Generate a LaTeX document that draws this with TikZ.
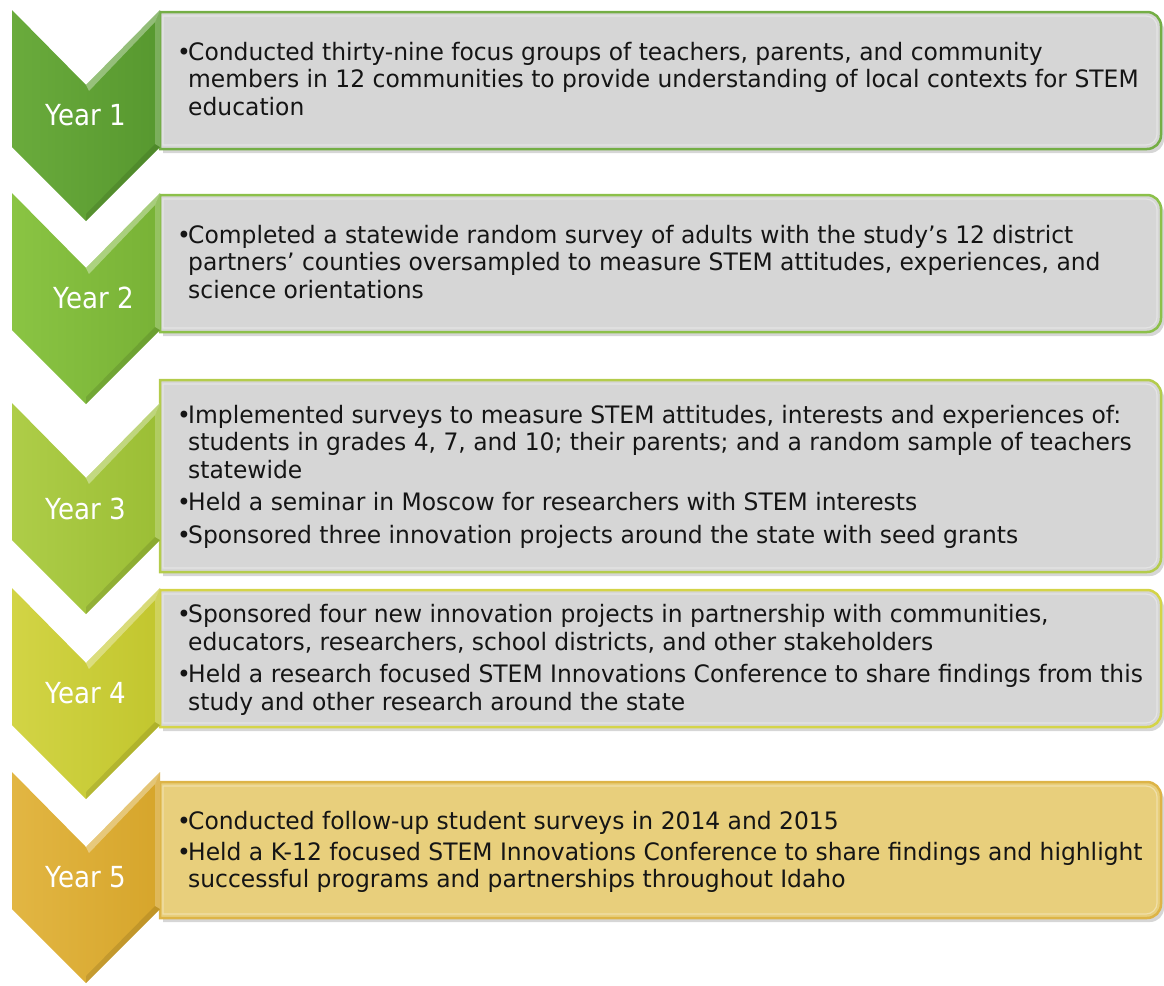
\documentclass[tikz,border=0pt]{standalone}
\usepackage{fontspec}
\setmainfont[FakeStretch=0.975]{DejaVu Sans}
\newfontfamily\yrfont[FakeStretch=0.9]{DejaVu Sans}
\definecolor{cA}{HTML}{57982F}\definecolor{cAl}{HTML}{6AAB3C}\definecolor{oA}{HTML}{74AE45}
\definecolor{cB}{HTML}{78B236}\definecolor{cBl}{HTML}{8AC443}\definecolor{oB}{HTML}{8CC04A}
\definecolor{cC}{HTML}{9BBE35}\definecolor{cCl}{HTML}{AECD48}\definecolor{oC}{HTML}{B4CC4C}
\definecolor{cD}{HTML}{C2C62E}\definecolor{cDl}{HTML}{D2D445}\definecolor{oD}{HTML}{D4D448}
\definecolor{cE}{HTML}{D6A52B}\definecolor{cEl}{HTML}{E2B643}\definecolor{oE}{HTML}{DDB447}
\definecolor{boxgray}{HTML}{D6D6D6}\definecolor{boxgold}{HTML}{E8CF7C}
\definecolor{txtc}{HTML}{151515}
\newcommand\mybox[4]{%
  \fill[black,opacity=0.16] (163,#1+4) [rounded corners=14]-- (1164,#1+4) -- (1164,#2+4) [sharp corners]-- (163,#2+4) -- cycle;
  \draw[line width=2.5pt,draw=#3,fill=#4] (160,#1) [rounded corners=14]-- (1161,#1) -- (1161,#2) [sharp corners]-- (160,#2) -- cycle;
  \draw[line width=1.2pt,white,opacity=0.35] (163,#1+4) [rounded corners=11]-- (1157,#1+4) -- (1157,#2-4) [sharp corners]-- (163,#2-4) -- cycle;
}
\newcommand\mychev[3]{%
  \shade[left color=#2,right color=#3] (12,#1) -- (86,#1+75) -- (160,#1) -- (160,#1+137) -- (86,#1+211) -- (12,#1+137) -- cycle;
  \fill[white,opacity=0.35] (86,#1+75) -- (160,#1) -- (155,#1+12) -- (89,#1+81) -- cycle;
  \fill[white,opacity=0.22] (155,#1+12) -- (160,#1) -- (160,#1+137) -- (155,#1+134) -- cycle;
  \fill[black,opacity=0.10] (155,#1+134) -- (160,#1+137) -- (86,#1+211) -- (86,#1+204) -- cycle;
}
\newcommand\bul{\makebox[11pt][l]{•}}
\begin{document}
\begin{tikzpicture}[x=1pt,y=-1pt,
  txt/.style={anchor=base west,inner sep=0,font=\fontsize{24}{28}\selectfont,text=txtc},
  yr/.style={inner sep=0,font=\yrfont\fontsize{29}{34}\selectfont,text=white}]
\useasboundingbox (0,0) rectangle (1164,985);
% boxes
\mybox{12}{149}{oA}{boxgray}
\mybox{195}{332}{oB}{boxgray}
\mybox{380}{572}{oC}{boxgray}
\mybox{590}{727}{oD}{boxgray}
\mybox{782}{918}{oE}{boxgold}
% chevrons
\mychev{10}{cAl}{cA}
\mychev{193}{cBl}{cB}
\mychev{403}{cCl}{cC}
\mychev{588}{cDl}{cD}
\mychev{772}{cEl}{cE}
% year labels
\node[yr] (y1) at (86,115) {Year 1};
\node[yr] (y2) at (94,298) {Year 2};
\node[yr] (y3) at (86,509) {Year 3};
\node[yr] (y4) at (86,693) {Year 4};
\node[yr] (y5) at (86,877) {Year 5};
% box 1
\node[txt] (a1) at (177,60) {\bul Conducted thirty-nine focus groups of teachers, parents, and community};
\node[txt] (a2) at (188,87.5) {members in 12 communities to provide understanding of local contexts for STEM};
\node[txt] (a3) at (188,115) {education};
% box 2
\node[txt] (b1) at (177,243) {\bul Completed a statewide random survey of adults with the study's 12 district};
\node[txt] (b2) at (188,270.5) {partners' counties oversampled to measure STEM attitudes, experiences, and};
\node[txt] (b3) at (188,298) {science orientations};
% box 3
\node[txt] (c1) at (177,423) {\bul Implemented surveys to measure STEM attitudes, interests and experiences of:};
\node[txt] (c2) at (188,450.5) {students in grades 4, 7, and 10; their parents; and a random sample of teachers};
\node[txt] (c3) at (188,478) {statewide};
\node[txt] (c4) at (177,510) {\bul Held a seminar in Moscow for researchers with STEM interests};
\node[txt] (c5) at (177,543) {\bul Sponsored three innovation projects around the state with seed grants};
% box 4
\node[txt] (d1) at (177,622) {\bul Sponsored four new innovation projects in partnership with communities,};
\node[txt] (d2) at (188,650) {educators, researchers, school districts, and other stakeholders};
\node[txt] (d3) at (177,682) {\bul Held a research focused STEM Innovations Conference to share findings from this};
\node[txt] (d4) at (188,710) {study and other research around the state};
% box 5
\node[txt] (e1) at (177,829) {\bul Conducted follow-up student surveys in 2014 and 2015};
\node[txt] (e2) at (177,860) {\bul Held a K-12 focused STEM Innovations Conference to share findings and highlight};
\node[txt] (e3) at (188,887) {successful programs and partnerships throughout Idaho};
\end{tikzpicture}
\end{document}
